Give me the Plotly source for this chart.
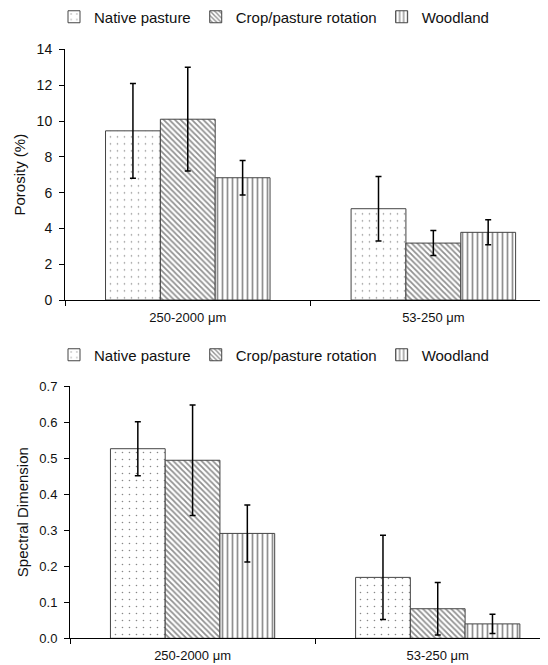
import plotly.graph_objects as go

categories = ["250-2000 μm", "53-250 μm"]
series_names = ["Native pasture", "Crop/pasture rotation", "Woodland"]

porosity_native = [9.45, 5.1]
porosity_native_err = [2.65, 1.8]
porosity_crop = [10.1, 3.18]
porosity_crop_err = [2.9, 0.7]
porosity_wood = [6.83, 3.78]
porosity_wood_err = [0.97, 0.7]

spectral_native = [0.526, 0.169]
spectral_native_err = [0.075, 0.117]
spectral_crop = [0.494, 0.082]
spectral_crop_err = [0.153, 0.073]
spectral_wood = [0.291, 0.040]
spectral_wood_err = [0.079, 0.027]

porosity_ticks = [0, 2, 4, 6, 8, 10, 12, 14]
spectral_ticks = [0.0, 0.1, 0.2, 0.3, 0.4, 0.5, 0.6, 0.7]

FONT = "Liberation Sans, Arial, sans-serif"
patterns = [
    dict(shape=".", size=7, solidity=0.04, fgcolor="#111", bgcolor="white"),
    dict(shape="\\", size=4, solidity=0.45, fgcolor="#222", bgcolor="white"),
    dict(shape="|", size=5, solidity=0.35, fgcolor="#222", bgcolor="white"),
]

fig = go.Figure()

top = [(porosity_native, porosity_native_err), (porosity_crop, porosity_crop_err), (porosity_wood, porosity_wood_err)]
bot = [(spectral_native, spectral_native_err), (spectral_crop, spectral_crop_err), (spectral_wood, spectral_wood_err)]

for i, (vals, err) in enumerate(top):
    fig.add_trace(go.Bar(
        x=categories, y=vals, name=series_names[i],
        marker=dict(color="white", pattern=patterns[i], line=dict(color="#444", width=1)),
        error_y=dict(type="data", array=err, color="black", thickness=1.5, width=3),
        xaxis="x", yaxis="y", legend="legend",
    ))
for i, (vals, err) in enumerate(bot):
    fig.add_trace(go.Bar(
        x=categories, y=vals, name=series_names[i],
        marker=dict(color="white", pattern=patterns[i], line=dict(color="#444", width=1)),
        error_y=dict(type="data", array=err, color="black", thickness=1.5, width=3),
        xaxis="x2", yaxis="y2", legend="legend2",
    ))

# page body has an 8px margin: figure pixel = screen pixel - 8
OFF = 8
W, H = 548 - OFF, 665 - OFF
L = 32
pw = W - L

def xd(px):
    return (px - OFF - L) / pw

def yd(py):
    return 1 - (py - OFF) / H

axis_common = dict(showline=True, linecolor="black", linewidth=1, ticks="outside",
                   ticklen=5, tickcolor="black", showgrid=False, zeroline=False,
                   automargin=False)

tf13 = dict(family=FONT, size=13, color="#111")
tf14 = dict(family=FONT, size=14, color="#111")

fig.update_layout(
    width=W, height=H,
    margin=dict(l=L, r=0, t=0, b=0, autoexpand=False),
    paper_bgcolor="white", plot_bgcolor="white",
    barmode="group", bargap=0.33, bargroupgap=0,
    font=dict(family=FONT, size=14, color="#111"),
    xaxis=dict(domain=[xd(65), 1], anchor="y", type="category", tickfont=tf13,
               range=[-0.5, 1.5 - OFF / 242], tickson="boundaries", ticklabelstandoff=5, **axis_common),
    yaxis=dict(domain=[yd(300), yd(49.4)], anchor="x", range=[0, 14], tickfont=tf14,
               tickvals=porosity_ticks, ticklabelstandoff=4,
               title=dict(text="Porosity (%)", font=dict(family=FONT, size=15, color="#111"), standoff=7),
               **axis_common),
    xaxis2=dict(domain=[xd(70), 1], anchor="y2", type="category", tickfont=tf13,
                range=[-0.5, 1.483 - OFF / 241], tickson="boundaries", ticklabelstandoff=5, **axis_common),
    yaxis2=dict(domain=[yd(638.3), yd(386)], anchor="x2", range=[0, 0.7], tickfont=tf13,
                tickvals=spectral_ticks, tickformat=".1f", ticklabelstandoff=4,
                title=dict(text="Spectral Dimension", font=dict(family=FONT, size=15, color="#111"), standoff=7),
                **axis_common),
    legend=dict(orientation="h", x=xd(54), xanchor="left", y=yd(17), yanchor="middle",
                font=dict(family=FONT, size=15, color="#111"), bgcolor="rgba(0,0,0,0)"),
    legend2=dict(orientation="h", x=xd(54), xanchor="left", y=yd(355), yanchor="middle",
                 font=dict(family=FONT, size=15, color="#111"), bgcolor="rgba(0,0,0,0)"),
)

fig.write_html("out.html")
